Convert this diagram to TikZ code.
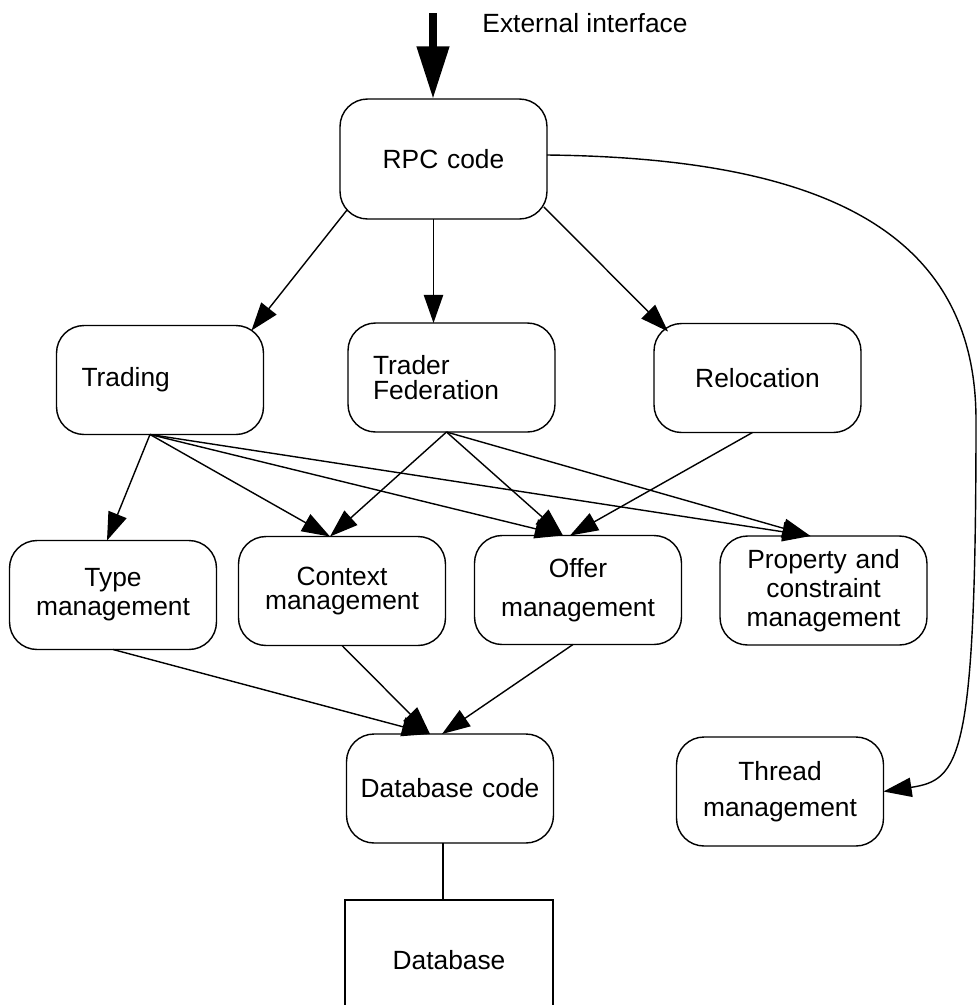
\documentclass[tikz,border=0pt]{standalone}
\usepackage{fontspec}
\setmainfont{Liberation Sans}
\usetikzlibrary{arrows.meta}

\begin{document}
\begin{tikzpicture}[x=0.02cm,y=-0.02cm,
  every node/.style={font=\fontsize{15}{16.5}\selectfont},
  box/.style={draw,line width=0.8pt,rounded corners=0.55cm,minimum width=4.14cm,minimum height=2.18cm,
    inner xsep=0.5cm,text width=3.14cm,align=center,outer sep=0pt},
  arr/.style={-{Triangle[length=16pt,width=11pt]},line width=0.8pt}]
  \useasboundingbox (0,0) rectangle (978,1005);

  \node (extlbl) at (585,23) {External interface};
  \node[box,minimum width=4.1cm,minimum height=2.4cm] (rpc) at (443.5,159) {RPC code};
  \node[box,align=left] (trading) at (160,380) {Trading};
  \node[box,align=left] (fed) at (451.5,377.5) {Trader\\[-2pt]Federation};
  \node[box] (reloc) at (757.5,378) {Relocation};
  \node[box] (type) at (113,595) {Type\\management};
  \node[box] (context) at (342,591) {Context\\[-3pt]management};
  \node[box] (offer) at (578,590) {Offer\\[6pt]management};
  \node[box] (prop) at (823.5,590.5) {Property and\\constraint\\management};
  \node[box,inner xsep=0.2cm,text width=3.74cm] (dbcode) at (450,788.5) {Database code};
  \node[box] (thread) at (780,791.5) {Thread\\[4pt]management};
  \node[draw,line width=0.8pt,minimum width=4.16cm,minimum height=2.4cm] (db) at (449,960) {Database};

  \coordinate (extin) at (433,13);
  \draw[line width=4.5pt,-{Triangle[length=30pt,width=17.6pt]}] (extin) -- (extin |- rpc.north);

  \draw[arr] ([shift={(7,-9)}]rpc.south west) -- ([shift={(-12,5)}]trading.north east);
  \draw[arr] ([shift={(-10,0)}]rpc.south) -- ([shift={(-10,0)}]rpc.south |- fed.north);
  \draw[arr] ([shift={(-3,-12)}]rpc.south east) -- ([shift={(14,8)}]reloc.north west);
  \draw[arr] ([shift={(0,-4)}]rpc.east) .. controls (820,158) and (976,230) .. (976,420)
    .. controls (976,760) and (960,780) .. (thread.east);

  \coordinate (trout) at ([shift={(-10,0)}]trading.south);
  \coordinate (fedout) at ([shift={(-5,0)}]fed.south);
  \foreach \t/\dx in {type/-6,context/-12,offer/-15,prop/-13}
    \draw[arr] (trout) -- ([shift={(\dx,0)}]\t.north);
  \foreach \t/\dx in {context/-12,offer/-15,prop/-13}
    \draw[arr] (fedout) -- ([shift={(\dx,0)}]\t.north);
  \draw[arr] ([shift={(-5,0)}]reloc.south) -- ([shift={(-8,0)}]offer.north);

  \foreach \s in {type,context}
    \draw[arr] (\s.south) -- ([shift={(-20,0)}]dbcode.north);
  \draw[arr] ([shift={(-5,0)}]offer.south) -- ([shift={(-8,0)}]dbcode.north);
  \draw[line width=0.8pt] ([shift={(-7,0)}]dbcode.south) -- ([shift={(-7,0)}]dbcode.south |- db.north);
\end{tikzpicture}
\end{document}
